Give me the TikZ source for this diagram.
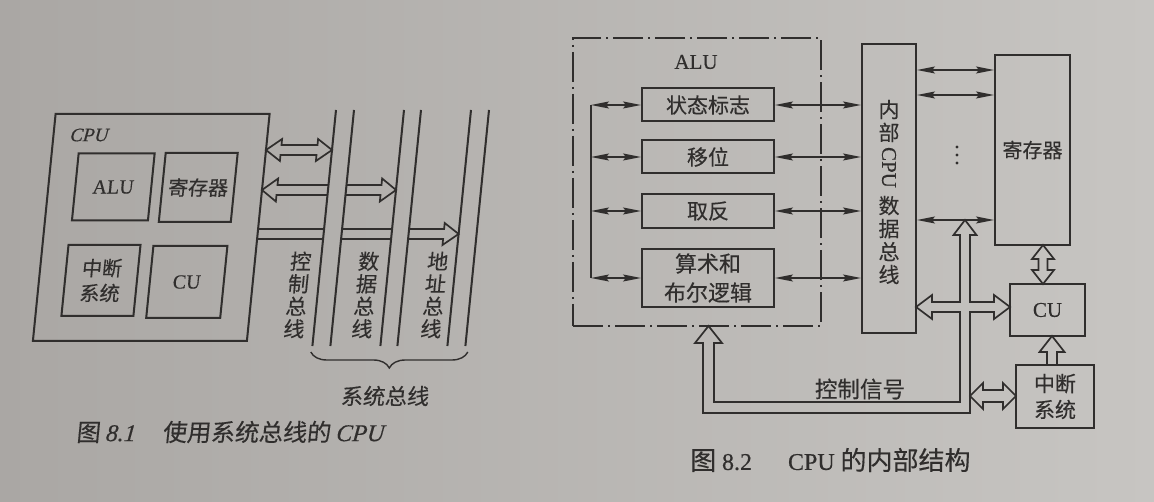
\documentclass[tikz,border=0pt]{standalone}
\usepackage{fontspec}
\usepackage{graphicx}
\setmainfont{Liberation Serif}[FakeBold=0.4]
\newfontfamily\cjk{Noto Sans CJK SC}[FakeBold=0.3]
\usetikzlibrary{arrows.meta,decorations.pathreplacing}
\definecolor{ink}{RGB}{48,46,45}
\definecolor{bgL}{RGB}{170,167,164}
\definecolor{bgR}{RGB}{199,197,194}
\newcommand\ptsize[1]{\fontsize{#1}{#1}\selectfont}
\newcommand\lat{\rmfamily}

\begin{document}
\begin{tikzpicture}[x=1pt,y=-1pt,
  box/.style={draw=ink, line width=2pt, inner sep=0pt, text=ink, align=center},
  lbl/.style={text=ink, inner sep=0pt, align=center},
  busline/.style={draw=ink, line width=2pt},
  hollow/.style={draw=ink, line width=1.7pt, line join=miter},
  thinarrow/.style={draw=ink, line width=1.3pt, {Stealth[length=18pt,width=7pt,inset=3pt]}-{Stealth[length=18pt,width=7pt,inset=3pt]}},
]
% page
\shade[left color=bgL, right color=bgR] (0,0) rectangle (1154,502);
\useasboundingbox (0,0) rectangle (1154,502);

% ---------------- Fig. 8.1: CPU on the system bus ----------------
\begin{scope}[shift={(23,0)}, xslant=0.1, transform shape]
  \node[box, minimum width=214pt, minimum height=227pt] (cpu) at (151,227.5) {};
  \node[lbl, font=\lat\itshape\ptsize{19}] (cpulbl) at (80,135) {CPU};
  \node[box, minimum width=76pt, minimum height=67pt, font=\lat\ptsize{20}] (alu1) at (109,187) {ALU};
  \node[box, minimum width=72pt, minimum height=69pt, font=\cjk\ptsize{20}] (reg1) at (194,187.5) {寄存器};
  \node[box, minimum width=72pt, minimum height=71pt, font=\cjk\fontsize{20}{25}\selectfont] (int1) at (106,280.5) {中断\\系统};
  \node[box, minimum width=74pt, minimum height=72pt, font=\lat\ptsize{20}] (cu1) at (192,282) {CU};

  % three buses, each a pair of lines
  \foreach \xa/\xb in {324/342, 392/409, 459/477} {
    \draw[busline] (\xa,110) -- (\xa,346);
    \draw[busline] (\xb,110) -- (\xb,346);
  }

  % control bus link (two-way)
  \draw[hollow] (258,150) -- (273,139) -- (273,145) -- (309,145) -- (309,139) -- (324,150)
                -- (309,161) -- (309,155) -- (273,155) -- (273,161) -- cycle;
  % data bus link (two-way), broken by the control bus
  \draw[hollow] (324,185) -- (273,185) -- (273,178.5) -- (258,190) -- (273,201.5) -- (273,195) -- (324,195);
  \draw[hollow] (342,185) -- (377,185) -- (377,178.5) -- (392,190) -- (377,201.5) -- (377,195) -- (342,195);
  % address bus link (one-way), broken by the other two buses
  \draw[hollow] (258,229) -- (324,229) (258,239) -- (324,239);
  \draw[hollow] (342,229) -- (392,229) (342,239) -- (392,239);
  \draw[hollow] (409,229) -- (444,229) -- (444,223) -- (459,234) -- (444,245) -- (444,239) -- (409,239);

  % bus names
  \node[lbl, font=\cjk\fontsize{21}{22.5}\selectfont] (cbus) at (304,295) {控\\制\\总\\线};
  \node[lbl, font=\cjk\fontsize{21}{22.5}\selectfont] (dbus) at (372,295) {数\\据\\总\\线};
  \node[lbl, font=\cjk\fontsize{21}{22.5}\selectfont] (abus) at (441,295) {地\\址\\总\\线};

  % brace over the three buses
  \coordinate (brl) at (323,352);
  \coordinate (brr) at (480,352);
  \draw[ink, line width=1.4pt, decorate, decoration={brace, mirror, amplitude=16pt}] (brl) -- (brr);
  \node[lbl, font=\cjk\ptsize{22}] (sysbus) at (402,396) {系统总线};

  % caption
  \node[lbl, anchor=west, font=\cjk\ptsize{24}] (cap1) at (97,432)
    {图 {\lat\itshape 8.1}\hspace{27pt}使用系统总线的 {\lat\itshape CPU}};
\end{scope}

% ---------------- Fig. 8.2: inside the CPU ----------------
\node[draw=ink, line width=1.3pt, dash pattern=on 30pt off 5pt on 2pt off 5pt,
      minimum width=248pt, minimum height=288pt, inner sep=0pt] (alu2) at (697,182) {};
\node[lbl, font=\lat\ptsize{21}] (alu2lbl) at (696,62) {ALU};
\node[box, minimum width=132pt, minimum height=33pt, font=\cjk\ptsize{21}] (flagbox) at (708,105) {状态标志};
\node[box, minimum width=132pt, minimum height=33pt, font=\cjk\ptsize{21}] (shiftbox) at (708,157) {移位};
\node[box, minimum width=132pt, minimum height=34pt, font=\cjk\ptsize{21}] (negbox) at (708,211) {取反};
\node[box, minimum width=132pt, minimum height=58pt, font=\cjk\fontsize{22}{29}\selectfont] (arithbox) at (708,278) {算术和\\布尔逻辑};

\node[box, minimum width=54pt, minimum height=289pt] (ibus) at (889,188.5) {};
\node[lbl, font=\cjk\fontsize{21}{23}\selectfont] (ibustext) at (889,192)
  {内\\部\\[4pt]\rotatebox[origin=c]{-90}{\lat CPU}\\[7pt]数\\据\\总\\线};

\node[box, minimum width=75pt, minimum height=190pt, font=\cjk\ptsize{20}] (regs) at (1032.5,150) {寄存器};
\node[box, minimum width=75pt, minimum height=52pt, font=\lat\ptsize{21}] (cu2) at (1047.5,310) {CU};
\node[box, minimum width=78pt, minimum height=63pt, font=\cjk\fontsize{21}{26}\selectfont] (int2) at (1055,396.5) {中断\\系统};

% ALU internal bus
\coordinate (lbtop) at (591,105);
\coordinate (lbbot) at (591,278);
\draw[ink, line width=1.3pt] (lbtop) -- (lbbot);
\foreach \b in {flagbox, shiftbox, negbox, arithbox} {
  \draw[thinarrow] (lbtop |- \b.west) -- (\b.west);
  \draw[thinarrow] (\b.east) -- (\b.east -| ibus.west);
}

% internal data bus to registers
\coordinate (r1) at (0,70);
\coordinate (r2) at (0,95);
\coordinate (r3) at (0,220);
\draw[thinarrow] (ibus.east |- r1) -- (regs.west |- r1);
\draw[thinarrow] (ibus.east |- r2) -- (regs.west |- r2);
\draw[thinarrow] (ibus.east |- r3) -- (regs.west |- r3);
\fill[ink] (957,147) circle (1.7pt) (957,155) circle (1.7pt) (957,163) circle (1.7pt);

% registers <-> CU
\draw[hollow] (1043,245) -- (1054,259) -- (1047.5,259) -- (1047.5,270) -- (1054,270) -- (1043,284)
              -- (1032,270) -- (1038.5,270) -- (1038.5,259) -- (1032,259) -- cycle;
% interrupt system -> CU
\draw[hollow] (1047,365) -- (1047,352) -- (1039.5,352) -- (1052,336) -- (1064.5,352) -- (1057,352) -- (1057,365);

% control signal network: cross junction, loop back to the ALU
\draw[hollow] (960,235) -- (960,302) -- (932,302) -- (932,295) -- (916,307) -- (932,319) -- (932,312)
  -- (960,312) -- (960,402) -- (714,402) -- (714,343) -- (722,343) -- (708.5,326) -- (695,343)
  -- (703,343) -- (703,413) -- (970,413) -- (970,312) -- (994,312) -- (994,319) -- (1010,307)
  -- (994,295) -- (994,302) -- (970,302) -- (970,235) -- (976.5,235) -- (965,220) -- (953.5,235) -- cycle;
% interrupt system <-> control path
\draw[hollow] (970,396) -- (983,383) -- (983,390) -- (1003,390) -- (1003,383) -- (1016,396)
  -- (1003,409) -- (1003,402) -- (983,402) -- (983,409) -- cycle;

\node[lbl, font=\cjk\ptsize{22.5}] (ctrl) at (860,389) {控制信号};

% caption
\node[lbl, anchor=west, font=\cjk\ptsize{26}] (cap2) at (690,460)
  {图 {\lat\ptsize{24}8.2}\hspace{36pt}{\lat\ptsize{24}CPU} 的内部结构};
\end{tikzpicture}
\end{document}
